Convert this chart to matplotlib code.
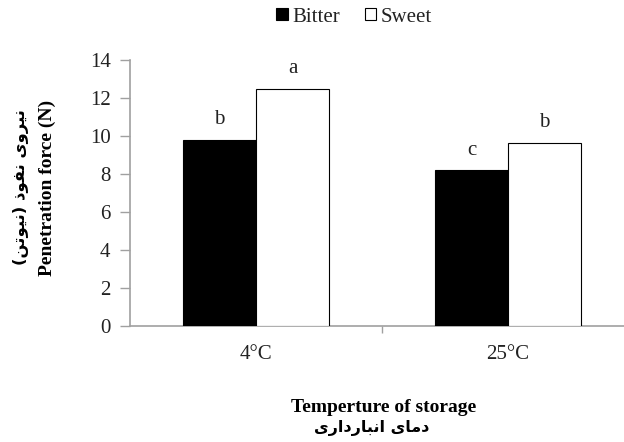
import matplotlib
matplotlib.use("Agg")
import matplotlib.pyplot as plt

categories = ["4°C", "25°C"]
bitter = [9.8, 8.2]
sweet = [12.5, 9.65]
bitter_letters = ["b", "c"]
sweet_letters = ["a", "b"]
yticks = [0, 2, 4, 6, 8, 10, 12, 14]

ylabel_en = "Penetration force (N)"
ylabel_fa = "نیروی نفوذ (نیوتن)"
xlabel_en = "Temperture of storage"
xlabel_fa = "دمای انبارداری"

# Contextual forms: (isolated, final, initial, medial)
FORMS = {
    "ن": ("\uFEE5", "\uFEE6", "\uFEE7", "\uFEE8"),
    "ی": ("\uFBFC", "\uFBFD", "\uFBFE", "\uFBFF"),
    "ر": ("\uFEAD", "\uFEAE", None, None),
    "و": ("\uFEED", "\uFEEE", None, None),
    "ف": ("\uFED1", "\uFED2", "\uFED3", "\uFED4"),
    "ذ": ("\uFEAB", "\uFEAC", None, None),
    "ت": ("\uFE95", "\uFE96", "\uFE97", "\uFE98"),
    "د": ("\uFEA9", "\uFEAA", None, None),
    "م": ("\uFEE1", "\uFEE2", "\uFEE3", "\uFEE4"),
    "ا": ("\uFE8D", "\uFE8E", None, None),
    "ب": ("\uFE8F", "\uFE90", "\uFE91", "\uFE92"),
}
MIRROR = {"(": ")", ")": "("}


def shape_rtl(text):
    out = []
    n = len(text)
    for i, ch in enumerate(text):
        if ch not in FORMS:
            out.append(ch)
            continue
        iso, fin, ini, med = FORMS[ch]
        prev = text[i - 1] if i > 0 else ""
        nxt = text[i + 1] if i + 1 < n else ""
        join_prev = prev in FORMS and FORMS[prev][2] is not None
        join_next = ini is not None and nxt in FORMS
        if join_prev and join_next:
            out.append(med)
        elif join_prev:
            out.append(fin)
        elif join_next:
            out.append(ini)
        else:
            out.append(iso)
    return "".join(MIRROR.get(c, c) for c in reversed(out))


W, H = 624, 442
fig = plt.figure(figsize=(W / 100, H / 100), dpi=100)
ax = fig.add_axes([130 / W, (H - 326) / H, 504 / W, 266 / H])

serif = ["Liberation Serif", "DejaVu Serif"]
farsi = ["DejaVu Sans"]
txt = "#222222"

x = list(range(len(categories)))
bw = 0.29
ax.bar([i - bw / 2 for i in x], bitter, width=bw, color="black",
       edgecolor="black", linewidth=0.8, label="Bitter", zorder=3)
ax.bar([i + bw / 2 for i in x], sweet, width=bw, color="white",
       edgecolor="black", linewidth=0.8, label="Sweet", zorder=3)

for i in x:
    ax.text(i - bw / 2, bitter[i] + 0.55, bitter_letters[i], ha="center",
            va="bottom", fontsize=15, family=serif, color=txt)
    ax.text(i + bw / 2, sweet[i] + 0.55, sweet_letters[i], ha="center",
            va="bottom", fontsize=15, family=serif, color=txt)

ax.set_xlim(-0.5, len(categories) - 0.5)
ax.set_ylim(0, 14)
ax.set_yticks(yticks)
ax.set_yticklabels([str(t) for t in yticks], family=serif, fontsize=15)

# category tick labels sit centred, tick marks sit on the boundaries
ax.set_xticks([0.5])
ax.set_xticklabels([""])
ax.tick_params(axis="x", length=5, color="#a0a0a0", width=1)
ax.tick_params(axis="y", length=7, color="#a0a0a0", width=1, pad=7,
               labelcolor=txt)
for i, c in enumerate(categories):
    ax.text(i, -1.5, c, ha="center", va="center", fontsize=15, family=serif,
            color=txt)

for s in ("top", "right"):
    ax.spines[s].set_visible(False)
for s in ("left", "bottom"):
    ax.spines[s].set_color("#a0a0a0")
    ax.spines[s].set_linewidth(1.2)

# axis titles, English and Persian
fig.text(47 / W, 1 - 188 / H, ylabel_en, rotation=90, ha="center", va="center",
         fontsize=14, fontweight="bold", family=serif)
fig.text(21 / W, 1 - 187 / H, shape_rtl(ylabel_fa), rotation=90, ha="center",
         va="center", fontsize=11.8, fontweight="bold", family=farsi)
fig.text(384 / W, 1 - 407 / H, xlabel_en, ha="center", va="center",
         fontsize=14, fontweight="bold", family=serif)
fig.text(372 / W, 1 - 428 / H, shape_rtl(xlabel_fa), ha="center", va="center",
         fontsize=11.5, fontweight="bold", family=farsi)

leg = fig.legend(loc="center", bbox_to_anchor=(354 / W, 1 - 17 / H), ncol=2,
                 frameon=False, prop={"family": serif, "size": 15},
                 handlelength=0.55, handleheight=0.55, handletextpad=0.2,
                 columnspacing=1.2)
for t in leg.get_texts():
    t.set_color(txt)

fig.savefig("out.png", dpi=100)
